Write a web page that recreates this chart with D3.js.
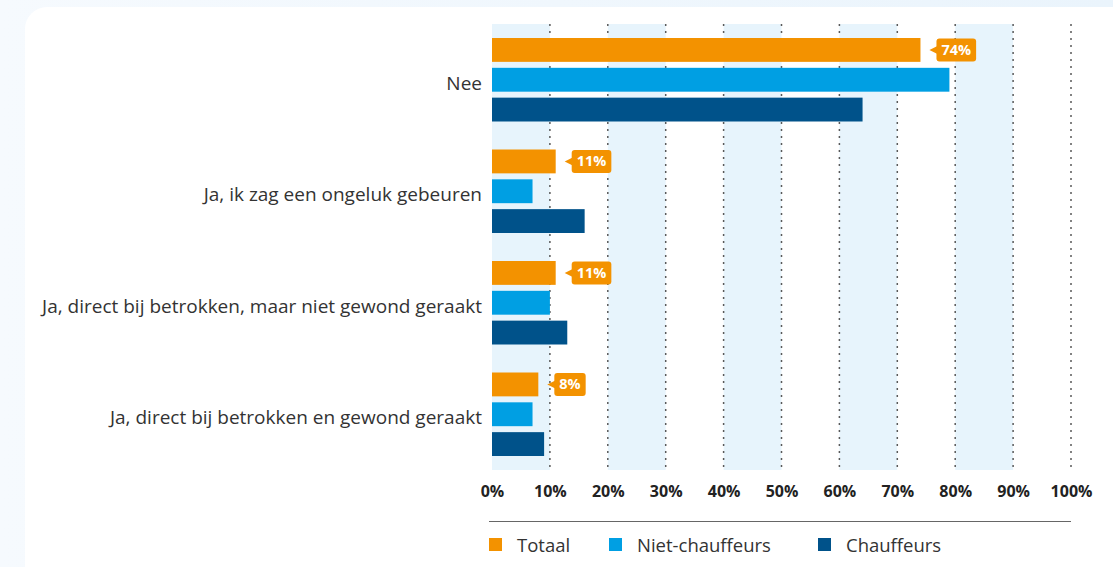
<!DOCTYPE html>
<meta charset="utf-8">
<style>
body { margin: 0; background: #eef6fc; }
svg { display: block; font-family: "Open Sans", sans-serif; }
</style>
<svg width="1113" height="567"></svg>
<script src="https://d3js.org/d3.v7.min.js"></script>
<script>

var categories = ["Nee", "Ja, ik zag een ongeluk gebeuren", "Ja, direct bij betrokken, maar niet gewond geraakt", "Ja, direct bij betrokken en gewond geraakt"];
var series = ["Totaal", "Niet-chauffeurs", "Chauffeurs"];
var totaal = [74, 11, 11, 8];
var nietChauffeurs = [79, 7, 10, 7];
var chauffeurs = [64, 16, 13, 9];
var ticks = [0, 10, 20, 30, 40, 50, 60, 70, 80, 90, 100];
var colors = ["#f39200", "#009fe3", "#00528a"];

var values = [totaal, nietChauffeurs, chauffeurs];

var svg = d3.select("svg");

var bg = svg.append("defs").append("linearGradient")
    .attr("id", "bg").attr("x1", 0).attr("x2", 1);
bg.append("stop").attr("offset", 0).attr("stop-color", "#f6fafe");
bg.append("stop").attr("offset", 1).attr("stop-color", "#eaf4fc");
svg.append("rect").attr("width", 1113).attr("height", 567).attr("fill", "url(#bg)");

// white card
svg.append("rect")
    .attr("x", 25).attr("y", 7)
    .attr("width", 1120).attr("height", 580)
    .attr("rx", 22)
    .attr("fill", "#fff");

var x = d3.scaleLinear().domain([0, 100]).range([492, 1071]);
var y = d3.scaleBand().domain(categories).range([24, 470]);
var ySub = d3.scaleBand().domain(series).range([14, y.bandwidth() - 14]).paddingInner(0.2);

// shaded bands
svg.append("g").selectAll("rect")
    .data([0, 20, 40, 60, 80])
    .join("rect")
    .attr("x", d => x(d))
    .attr("width", d => x(d + 10) - x(d))
    .attr("y", 24)
    .attr("height", 470 - 24)
    .attr("fill", "#e7f4fc");

// dotted grid
svg.append("g").selectAll("line")
    .data(ticks.slice(1))
    .join("line")
    .attr("x1", d => x(d)).attr("x2", d => x(d))
    .attr("y1", 24).attr("y2", 470)
    .attr("stroke", "#5a5a5a")
    .attr("stroke-width", 1.5)
    .attr("stroke-dasharray", "2,5");

// bars
var groups = svg.append("g").selectAll("g")
    .data(categories)
    .join("g")
    .attr("transform", d => "translate(0," + y(d) + ")");

groups.selectAll("rect")
    .data((c, i) => series.map((s, j) => ({ s: s, v: values[j][i], j: j })))
    .join("rect")
    .attr("x", x(0))
    .attr("y", d => ySub(d.s))
    .attr("width", d => x(d.v) - x(0))
    .attr("height", ySub.bandwidth())
    .attr("fill", d => colors[d.j]);

// callouts for Totaal
groups.each(function(c, i) {
  var g = d3.select(this);
  var v = totaal[i];
  var cy = ySub("Totaal") + ySub.bandwidth() / 2;
  var x0 = x(v) + 16;
  var box = g.append("g");
  var arrow = box.append("path").attr("fill", colors[0]);
  var rect = box.append("rect").attr("fill", colors[0]).attr("rx", 3);
  var t = box.append("text")
    .attr("y", cy + 5)
    .attr("text-anchor", "middle")
    .attr("fill", "#fff")
    .attr("font-size", 14.5)
    .attr("font-weight", "bold")
    .text(v + "%");
  var w = t.node().getComputedTextLength() + 10;
  t.attr("x", x0 + w / 2);
  rect.attr("x", x0).attr("y", cy - 11.5).attr("width", w).attr("height", 23);
  arrow.attr("d", "M" + (x0 - 7) + "," + cy + "L" + (x0 + 1) + "," + (cy - 4) + "L" + (x0 + 1) + "," + (cy + 4) + "Z");
});

// category labels
svg.append("g").selectAll("text")
    .data(categories)
    .join("text")
    .attr("x", 482)
    .attr("y", d => y(d) + y.bandwidth() / 2 + 10)
    .attr("text-anchor", "end")
    .attr("fill", "#333")
    .attr("font-size", 19)
    .text(d => d);

// x axis labels
var axis = svg.append("g")
    .attr("transform", "translate(0,497)")
    .call(d3.axisBottom(x).tickValues(ticks).tickFormat(d => d + "%").tickSize(0));
axis.select(".domain").remove();
axis.selectAll("text")
    .attr("y", 0)
    .attr("dy", 0)
    .attr("fill", "#222")
    .attr("font-size", 16)
    .attr("font-weight", "bold")
    .attr("font-family", "\"Open Sans\", sans-serif");

// legend
svg.append("line")
    .attr("x1", 489).attr("x2", 1071)
    .attr("y1", 521.5).attr("y2", 521.5)
    .attr("stroke", "#666").attr("stroke-width", 1);

var legendX = [489, 609, 818];
var legend = svg.append("g").selectAll("g")
    .data(series)
    .join("g")
    .attr("transform", (d, i) => "translate(" + legendX[i] + ",538)");
legend.append("rect")
    .attr("width", 13).attr("height", 13)
    .attr("fill", (d, i) => colors[i]);
legend.append("text")
    .attr("x", 28).attr("y", 13.5)
    .attr("fill", "#333")
    .attr("font-size", 18.5)
    .text(d => d);

</script>
